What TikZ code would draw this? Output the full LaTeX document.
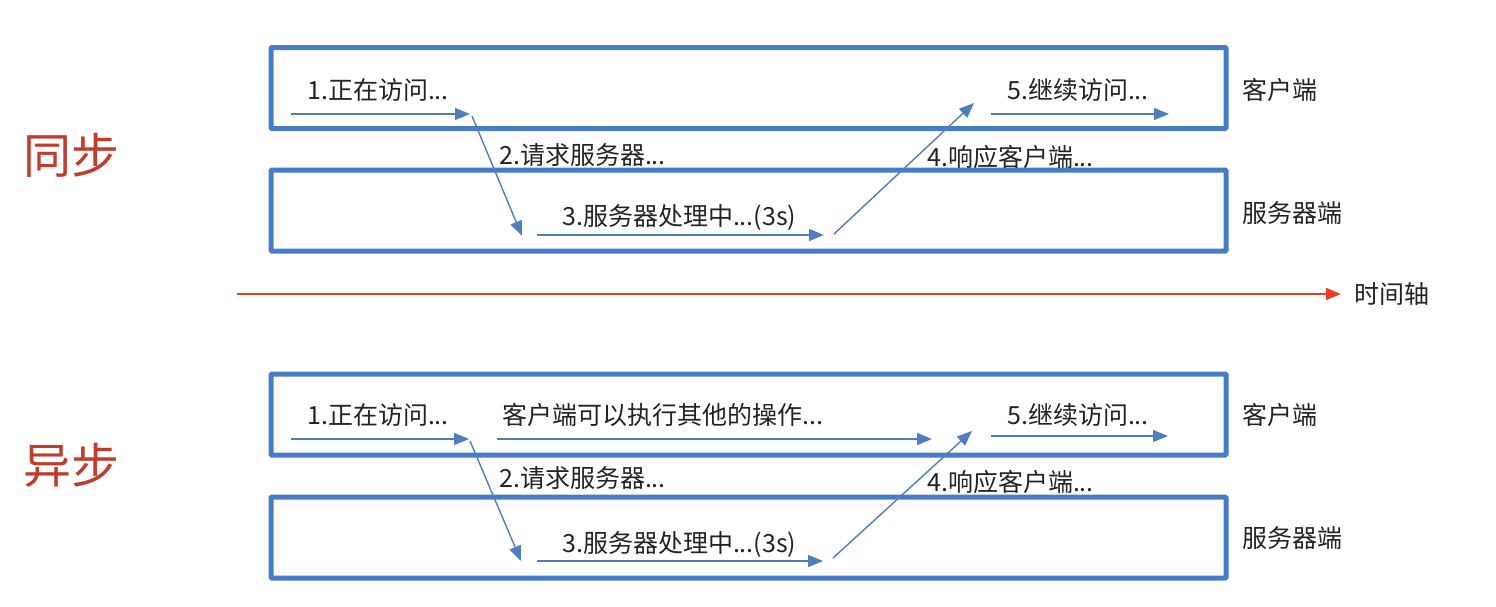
\documentclass[tikz,border=0pt]{standalone}
\usepackage{fontspec}
\setmainfont{Noto Sans CJK SC}
\usetikzlibrary{arrows.meta}
\definecolor{boxblue}{RGB}{72,124,200}
\definecolor{arrblue}{RGB}{80,125,190}
\definecolor{axisred}{RGB}{232,64,32}
\definecolor{titlered}{RGB}{192,60,45}
\definecolor{txt}{RGB}{35,35,35}
\tikzset{
  lane/.style={draw=boxblue, line width=5pt, minimum width=955pt, minimum height=81pt, inner sep=0pt, rounded corners=1pt},
  flow/.style={draw=arrblue, line width=1.4pt, -{Triangle[length=15pt,width=12pt]}},
  lbl/.style={text=txt, font=\fontsize{25}{28}\selectfont, inner sep=0pt, anchor=west},
  side/.style={text=txt, font=\fontsize{25}{28}\selectfont, inner sep=0pt, anchor=west},
  title/.style={text=titlered, font=\fontsize{48}{52}\selectfont, inner sep=0pt, anchor=west},
}
\begin{document}
\begin{tikzpicture}[x=1pt,y=-1pt]
\useasboundingbox (0,0) rectangle (1496,606);
% ---------- synchronous ----------
\node[lane] (c1) at (748.5,88) {};
\node[lane] (s1) at (748.5,210.5) {};
\node[title] (t1) at (23,155) {同步};
\node[side] (cl1) at (1242,90) {客户端};
\node[side] (sl1) at (1242,213) {服务器端};

\coordinate (a1s) at (291,114); \coordinate (a1e) at (470,114);
\coordinate (a2s) at (472,116); \coordinate (a2e) at (522,236);
\coordinate (a3s) at (537,235); \coordinate (a3e) at (824,235);
\coordinate (a4s) at (834,234); \coordinate (a4e) at (974,103);
\coordinate (a5s) at (991,114); \coordinate (a5e) at (1169,114);
\draw[flow] (a1s) -- (a1e);
\draw[flow] (a2s) -- (a2e);
\draw[flow] (a3s) -- (a3e);
\draw[flow] (a4s) -- (a4e);
\draw[flow] (a5s) -- (a5e);
\node[lbl] (l11) at (307,90) {1.正在访问...};
\node[lbl] (l12) at (499,155) {2.请求服务器...};
\node[lbl] (l13) at (562,217) {3.服务器处理中...(3s)};
\node[lbl] (l14) at (927,157) {4.响应客户端...};
\node[lbl] (l15) at (1007,90) {5.继续访问...};

% ---------- time axis ----------
\coordinate (ax0) at (237,294);
\coordinate (ax1) at (1341,294);
\draw[draw=axisred, line width=1.8pt, -{Triangle[length=15pt,width=12pt]}] (ax0) -- (ax1);
\node[side] (axl) at (1354,294) {时间轴};

% ---------- asynchronous ----------
\node[lane] (c2) at (748.5,414.5) {};
\node[lane] (s2) at (748.5,537.5) {};
\node[title] (t2) at (23,465) {异步};
\node[side] (cl2) at (1242,415) {客户端};
\node[side] (sl2) at (1242,538) {服务器端};

\coordinate (b1s) at (291,439); \coordinate (b1e) at (469,439);
\coordinate (b6s) at (497,439); \coordinate (b6e) at (932,439);
\coordinate (b2s) at (470,441); \coordinate (b2e) at (521,561);
\coordinate (b3s) at (537,561); \coordinate (b3e) at (823,561);
\coordinate (b4s) at (833,558); \coordinate (b4e) at (972,431);
\coordinate (b5s) at (991,436); \coordinate (b5e) at (1168,436);
\draw[flow] (b1s) -- (b1e);
\draw[flow] (b6s) -- (b6e);
\draw[flow] (b2s) -- (b2e);
\draw[flow] (b3s) -- (b3e);
\draw[flow] (b4s) -- (b4e);
\draw[flow] (b5s) -- (b5e);
\node[lbl] (l21) at (307,415) {1.正在访问...};
\node[lbl] (l26) at (502,415) {客户端可以执行其他的操作...};
\node[lbl] (l22) at (499,478) {2.请求服务器...};
\node[lbl] (l23) at (562,544) {3.服务器处理中...(3s)};
\node[lbl] (l24) at (927,482) {4.响应客户端...};
\node[lbl] (l25) at (1007,415) {5.继续访问...};
\end{tikzpicture}
\end{document}
